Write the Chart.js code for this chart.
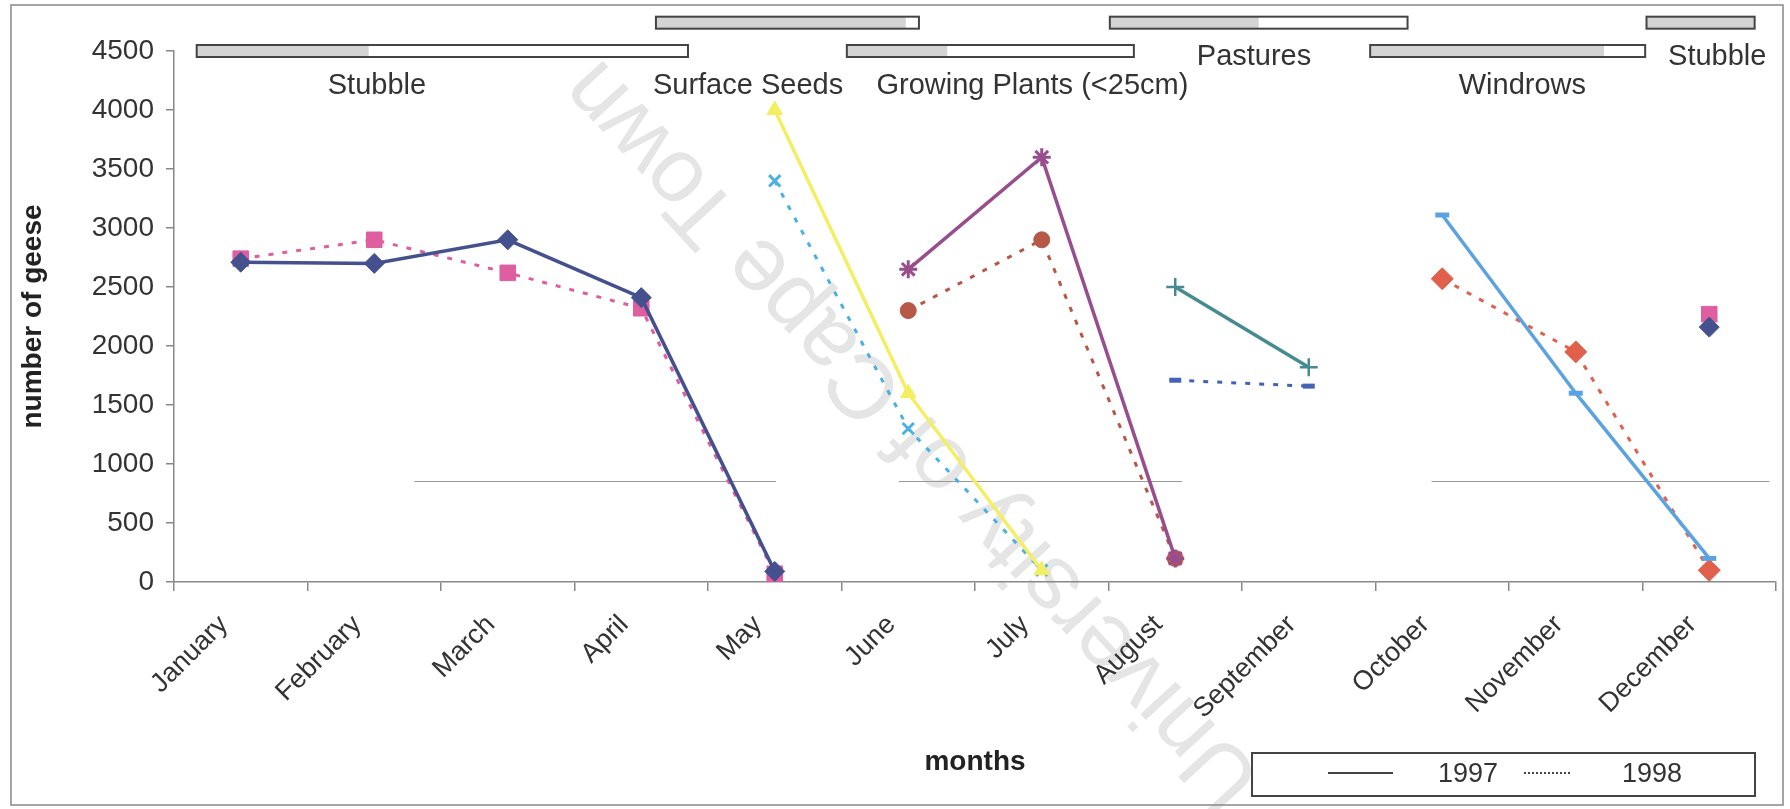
<!DOCTYPE html>
<html>
<head>
<meta charset="utf-8">
<title>Geese per month</title>
<script src="https://cdn.jsdelivr.net/npm/chart.js@4.4.0/dist/chart.umd.min.js"></script>
<style>
  html, body { margin: 0; padding: 0; background: #fff; }
</style>
</head>
<body>
<canvas id="chart" width="1790" height="809"></canvas>
<script>
// ---- data ----
var months = ['January', 'February', 'March', 'April', 'May', 'June', 'July',
              'August', 'September', 'October', 'November', 'December'];
var years = ['1997', '1998'];
var periodNames = ['Stubble', 'Surface Seeds', 'Growing Plants (<25cm)', 'Pastures', 'Windrows', 'Stubble'];

// stubble (Jan-May and December)
var stubble1997  = [2710, 2700, 2900, 2410, 90, null, null, null, null, null, null, 2160];
var stubble1998  = [2740, 2900, 2620, 2320, 70, null, null, null, null, null, null, 2270];
// surface seeds
var seeds1997    = [null, null, null, null, 4000, 1600, 100, null, null, null, null, null];
var seeds1998    = [null, null, null, null, 3400, 1300, 100, null, null, null, null, null];
// growing plants
var growing1997  = [null, null, null, null, null, 2650, 3600, 200, null, null, null, null];
var growing1998  = [null, null, null, null, null, 2300, 2900, 200, null, null, null, null];
// pastures
var pastures1997 = [null, null, null, null, null, null, null, 2500, 1820, null, null, null];
var pastures1998 = [null, null, null, null, null, null, null, 1710, 1660, null, null, null];
// windrows
var windrows1997 = [null, null, null, null, null, null, null, null, null, 3110, 1600, 200];
var windrows1998 = [null, null, null, null, null, null, null, null, null, 2570, 1950, 100];

var FONT = "'Liberation Sans', Arial, sans-serif";
var TEXT = '#333';

function ds(data, color, style, radius, dashed, bw) {
  return {
    data: data,
    borderColor: color,
    backgroundColor: color,
    pointBackgroundColor: color,
    pointBorderColor: color,
    pointStyle: style,
    pointRadius: radius,
    pointBorderWidth: bw || 1,
    borderWidth: dashed ? 3 : 3.5,
    borderDash: dashed ? [5, 9] : [],
    tension: 0,
    spanGaps: false
  };
}

// top band of period boxes: [from index, to index, y value, grey share]
var periodBoxes = [
  [-0.33, 3.35, 4500, 0.35],
  [3.11, 5.08, 4740, 0.95],
  [4.54, 6.69, 4500, 0.35],
  [6.51, 8.74, 4740, 0.5],
  [8.46, 10.52, 4500, 0.85],
  [10.53, 11.34, 4740, 1.0]
];
var periodLabelPos = [[1.02, 4204], [3.80, 4204], [5.93, 4204], [7.59, 4450], [9.60, 4204], [11.06, 4450]];
// stray grey rules of the scan: [from index, to index, y value]
var strayRules = [[1.30, 4.01, 860], [4.93, 7.05, 860], [8.92, 11.45, 860]];

var decor = {
  id: 'decor',
  beforeDraw: function (c) {
    var ctx = c.ctx;
    ctx.save();
    ctx.translate(913, 434);
    ctx.rotate(-132.7 * Math.PI / 180);
    ctx.font = '91px ' + FONT;
    ctx.fillStyle = '#e5e5e5';
    ctx.textAlign = 'center';
    ctx.textBaseline = 'middle';
    ctx.fillText('University of Cape Town', 0, 0);
    ctx.restore();
  },
  beforeDatasetsDraw: function (c) {
    var ctx = c.ctx, x = c.scales.x, y = c.scales.y;
    ctx.save();
    ctx.strokeStyle = '#999';
    ctx.lineWidth = 1.2;
    strayRules.forEach(function (r) {
      var py = Math.round(y.getPixelForValue(r[2])) + 0.5;
      ctx.beginPath();
      ctx.moveTo(x.getPixelForValue(r[0]), py);
      ctx.lineTo(x.getPixelForValue(r[1]), py);
      ctx.stroke();
    });
    ctx.restore();
  },
  afterDraw: function (c) {
    var ctx = c.ctx, x = c.scales.x, y = c.scales.y;
    ctx.save();
    // period boxes
    periodBoxes.forEach(function (b) {
      var x0 = x.getPixelForValue(b[0]), x1 = x.getPixelForValue(b[1]);
      var yc = y.getPixelForValue(b[2]);
      var h = 12;
      ctx.fillStyle = '#fff';
      ctx.fillRect(x0, yc - h / 2, x1 - x0, h);
      ctx.fillStyle = '#d4d4d4';
      ctx.fillRect(x0, yc - h / 2, (x1 - x0) * b[3], h);
      ctx.strokeStyle = '#444';
      ctx.lineWidth = 2;
      ctx.strokeRect(x0, yc - h / 2, x1 - x0, h);
    });
    // period labels
    ctx.font = '29px ' + FONT;
    ctx.fillStyle = TEXT;
    ctx.textAlign = 'center';
    ctx.textBaseline = 'middle';
    periodNames.forEach(function (n, i) {
      var p = periodLabelPos[i];
      ctx.fillText(n, x.getPixelForValue(p[0]), y.getPixelForValue(p[1]));
    });
    // legend box
    ctx.font = '27px ' + FONT;
    ctx.strokeStyle = '#444';
    ctx.lineWidth = 2;
    ctx.strokeRect(1252, 753, 503, 43);
    ctx.beginPath();
    ctx.moveTo(1328, 773); ctx.lineTo(1393, 773);
    ctx.stroke();
    ctx.setLineDash([2, 2]);
    ctx.beginPath();
    ctx.moveTo(1524, 773); ctx.lineTo(1571, 773);
    ctx.stroke();
    ctx.setLineDash([]);
    ctx.fillText(years[0], 1468, 775);
    ctx.fillText(years[1], 1652, 775);
    // outer frame
    ctx.strokeStyle = '#888';
    ctx.lineWidth = 1.5;
    ctx.strokeRect(11, 5, 1772, 800);
    ctx.restore();
  }
};

new Chart(document.getElementById('chart'), {
  type: 'line',
  data: {
    labels: months,
    datasets: [
      ds(stubble1997, '#45508f', 'rectRot', 10, false),
      ds(stubble1998, '#de5e9f', 'rect', 11, true),
      ds(seeds1997, '#f3ee62', 'triangle', 9, false),
      ds(seeds1998, '#4cb0e2', 'crossRot', 8, true, 3),
      ds(growing1997, '#984e8c', 'star', 9, false, 3),
      ds(growing1998, '#b65848', 'circle', 8, true),
      ds(pastures1997, '#478a90', 'cross', 9, false, 2.5),
      ds(pastures1998, '#4563b4', 'line', 6, true, 5),
      ds(windrows1997, '#5ba2e0', 'line', 7, false, 5),
      ds(windrows1998, '#e0604c', 'rectRot', 11, true)
    ]
  },
  options: {
    responsive: false,
    animation: false,
    devicePixelRatio: 1,
    layout: { padding: { top: 51, right: 14, bottom: 20, left: 0 } },
    plugins: { legend: { display: false }, tooltip: { enabled: false } },
    scales: {
      x: {
        offset: true,
        grid: { offset: true, drawOnChartArea: false, drawTicks: true, tickLength: 9, color: '#888', lineWidth: 1.5 },
        border: { color: '#888', width: 1.5 },
        ticks: { autoSkip: false, minRotation: 45, maxRotation: 45, padding: 18, labelOffset: -17, color: TEXT, font: { family: FONT, size: 27 } },
        title: { display: true, text: 'months', color: '#222', font: { family: FONT, size: 28, weight: 'bold' }, padding: { top: 0, bottom: 10 } },
        afterFit: function (s) { s.height = 207; }
      },
      y: {
        min: 0,
        max: 4500,
        grid: { drawOnChartArea: false, drawTicks: true, tickLength: 8, color: '#888', lineWidth: 1.5 },
        border: { color: '#888', width: 1.5 },
        ticks: { stepSize: 500, padding: 12, color: TEXT, font: { family: FONT, size: 28 },
                 callback: function (v) { return String(v); } },
        title: { display: true, text: 'number of geese', color: '#222', font: { family: FONT, size: 28, weight: 'bold' }, padding: { top: 16, bottom: 0 } },
        afterFit: function (s) { s.width = 174; }
      }
    }
  },
  plugins: [decor]
});
</script>
</body>
</html>
